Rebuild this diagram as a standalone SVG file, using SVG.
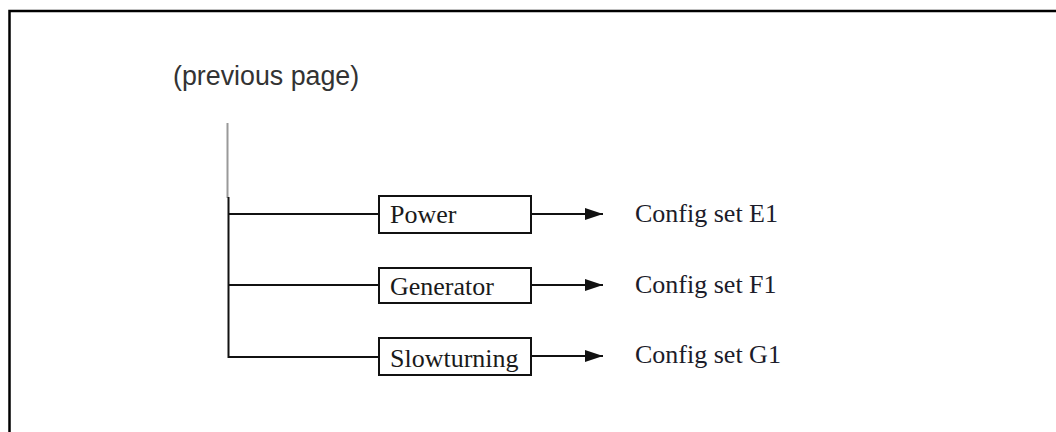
<svg xmlns="http://www.w3.org/2000/svg" width="1056" height="432" viewBox="0 0 1056 432">
<style>
.frame{fill:none;stroke:#000;stroke-width:2.5}
.ln{fill:none;stroke:#111;stroke-width:2}
.box{fill:#fff;stroke:#111;stroke-width:2}
.lbl{font-family:"Liberation Serif",serif;font-size:26px;fill:#1a1a1a}
.cfg{font-family:"Liberation Serif",serif;font-size:26px;fill:#1c1c2a}
.hdr{font-family:"Liberation Sans",sans-serif;font-size:26.8px;fill:#333}
</style>
<defs>
<marker id="ah" markerWidth="18" markerHeight="12" refX="18" refY="6" orient="auto" markerUnits="userSpaceOnUse">
<path d="M0,0 L18,6 L0,12 Z" fill="#111"/>
</marker>
</defs>
<rect width="1056" height="432" fill="#fff"/>
<path class="frame" d="M9.5,432 V11 H1056"/>
<g id="header"><text class="hdr" x="173" y="85">(previous page)</text></g>
<g id="connectors">
<line x1="227.5" y1="123" x2="227.5" y2="198" stroke="#999" stroke-width="2"/>
<line class="ln" x1="228.5" y1="197" x2="228.5" y2="358"/>
<line class="ln" x1="228" y1="214" x2="379" y2="214"/>
<line class="ln" x1="228" y1="285" x2="379" y2="285"/>
<line class="ln" x1="228" y1="357" x2="379" y2="357"/>
<line class="ln" x1="531" y1="214" x2="603" y2="214" marker-end="url(#ah)"/>
<line class="ln" x1="531" y1="285" x2="603" y2="285" stroke="#666" marker-end="url(#ah)"/>
<line class="ln" x1="531" y1="356" x2="603" y2="356" marker-end="url(#ah)"/>
</g>
<g id="power"><rect class="box" x="379" y="196" width="152" height="37"/><text class="lbl" x="390" y="223">Power</text></g>
<g id="generator"><rect class="box" x="379" y="268" width="152" height="35"/><text class="lbl" x="390" y="295">Generator</text></g>
<g id="slowturning"><rect class="box" x="379" y="338" width="152" height="37"/><text class="lbl" x="390" y="367">Slowturning</text></g>
<g id="cfgE1"><text class="cfg" x="635" y="222">Config set E1</text></g>
<g id="cfgF1"><text class="cfg" x="635" y="293">Config set F1</text></g>
<g id="cfgG1"><text class="cfg" x="635" y="363">Config set G1</text></g>
</svg>
